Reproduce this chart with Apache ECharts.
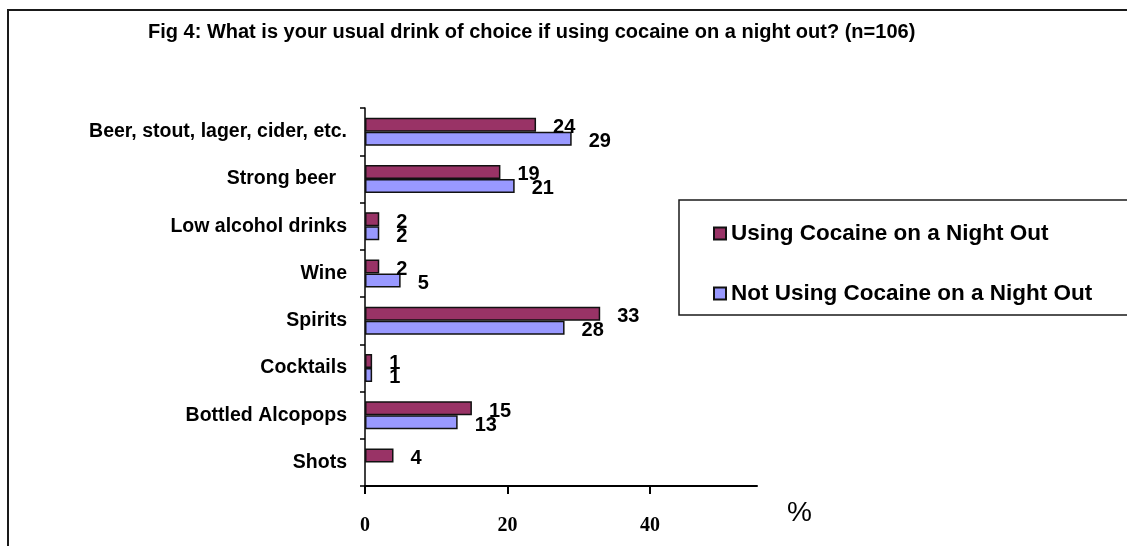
<!DOCTYPE html>
<html>
<head>
<meta charset="utf-8">
<script src="https://cdn.jsdelivr.net/npm/echarts@6/dist/echarts.min.js"></script>
<style>
  html, body { margin: 0; padding: 0; background: #fff; }
  #chart { width: 1127px; height: 546px; }
</style>
</head>
<body>
<div id="chart"></div>
<script>
// data
const categories = [
  'Beer, stout, lager, cider, etc.',
  'Strong beer  ',
  'Low alcohol drinks',
  'Wine',
  'Spirits',
  'Cocktails',
  'Bottled Alcopops',
  'Shots'
];
const usingCocaine = [24, 19, 2, 2, 33, 1, 15, 4];
const notUsingCocaine = [29, 21, 2, 5, 28, 1, 13, null];
const xTicks = [0, 20, 40];
const seriesNames = ['Using Cocaine on a Night Out', 'Not Using Cocaine on a Night Out'];

const chart = echarts.init(document.getElementById('chart'));

const labelStyle = {
  show: true,
  position: 'right',
  distance: 17,
  offset: [0, 3],
  color: '#000',
  fontFamily: 'Liberation Sans, Arial, sans-serif',
  fontWeight: 'bold',
  fontSize: 20
};

const option = {
  animation: false,
  backgroundColor: '#fff',
  title: {
    text: 'Fig 4: What is your usual drink of choice if using cocaine on a night out? (n=106)',
    left: 148,
    top: 22,
    padding: 0,
    textStyle: {
      fontFamily: 'Liberation Sans, Arial, sans-serif',
      fontWeight: 'bold',
      fontSize: 20,
      color: '#000'
    }
  },
  graphic: [
    {
      // outer frame
      type: 'rect',
      shape: { x: 8, y: 10, width: 1300, height: 700 },
      style: { fill: 'none', stroke: '#1a1a1a', lineWidth: 2 },
      silent: true
    },
    {
      // legend box
      type: 'rect',
      shape: { x: 679, y: 200, width: 600, height: 115 },
      style: { fill: '#fff', stroke: '#1a1a1a', lineWidth: 1.5 },
      silent: true,
      z: -1
    }
  ],
  legend: {
    data: seriesNames,
    orient: 'vertical',
    left: 713,
    top: 222,
    padding: 0,
    itemWidth: 12,
    itemHeight: 12,
    itemGap: 37,
    icon: 'rect',
    textStyle: {
      fontFamily: 'Liberation Sans, Arial, sans-serif',
      fontWeight: 'bold',
      fontSize: 22.5,
      lineHeight: 20,
      color: '#000'
    }
  },
  grid: {
    left: 365,
    right: 370,
    top: 108,
    bottom: 60,
    containLabel: false
  },
  xAxis: {
    type: 'value',
    min: 0,
    max: 55,
    name: '%',
    nameLocation: 'end',
    nameGap: 30,
    nameTextStyle: {
      fontFamily: 'Liberation Sans, Arial, sans-serif',
      fontSize: 28,
      color: '#000',
      align: 'left',
      verticalAlign: 'top',
      padding: [13, 0, 0, 0]
    },
    axisLine: { show: true, lineStyle: { color: '#000', width: 2 } },
    axisTick: { show: true, customValues: xTicks, length: 8, lineStyle: { color: '#000', width: 2 } },
    axisLabel: {
      customValues: xTicks,
      margin: 30,
      color: '#000',
      fontFamily: 'Liberation Serif, Times New Roman, serif',
      fontWeight: 'bold',
      fontSize: 20
    },
    splitLine: { show: false }
  },
  yAxis: {
    type: 'category',
    data: categories,
    inverse: true,
    axisLine: { show: true, lineStyle: { color: '#000', width: 1.5 } },
    axisTick: { show: true, length: 5, lineStyle: { color: '#000', width: 1.5 } },
    axisLabel: {
      margin: 18,
      color: '#000',
      fontFamily: 'Liberation Sans, Arial, sans-serif',
      fontWeight: 'bold',
      fontSize: 19.5
    },
    splitLine: { show: false }
  },
  series: [
    {
      name: seriesNames[0],
      type: 'bar',
      data: usingCocaine,
      barWidth: 14,
      barGap: '0%',
      itemStyle: { color: '#993366', borderColor: '#111', borderWidth: 1.5 },
      label: labelStyle
    },
    {
      name: seriesNames[1],
      type: 'bar',
      data: notUsingCocaine,
      barWidth: 14,
      barGap: '0%',
      itemStyle: { color: '#9999ff', borderColor: '#111', borderWidth: 1.5 },
      label: labelStyle
    }
  ]
};

chart.setOption(option);
</script>
</body>
</html>
